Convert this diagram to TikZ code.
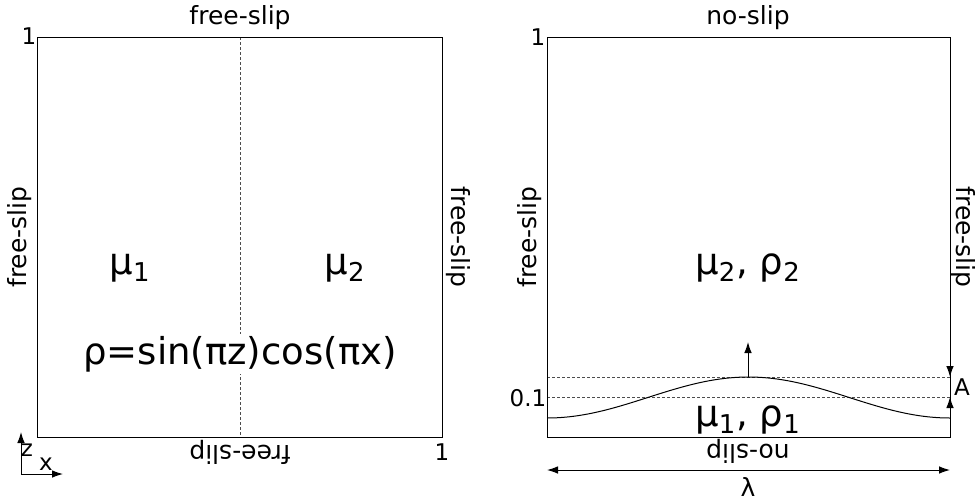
\documentclass[tikz,border=0pt]{standalone}
\usepackage{fontspec}
\setmainfont{DejaVu Sans}
\usetikzlibrary{arrows.meta, positioning}

\begin{document}
\begin{tikzpicture}[
  x=0.5pt, y=-0.5pt,
  lbl/.style={font=\fontsize{12.5}{15}\selectfont, inner sep=1pt},
  big/.style={font=\fontsize{18.5}{22}\selectfont, inner sep=1pt},
  small/.style={font=\fontsize{11.5}{13}\selectfont, inner sep=1pt},
  arrow/.style={-{Latex[length=5.5pt,width=3.8pt]}, line width=0.5pt},
  guide/.style={dash pattern=on 1.5pt off 1pt, line width=0.4pt, black!70}
]
\useasboundingbox (0,0) rectangle (976,500);

% left box
\coordinate (lsw) at (37,437);
\coordinate (lne) at (442,37);
\coordinate (ltop) at (240,37);
\coordinate (lbot) at (240,437);
\draw[guide] (ltop) -- (lbot);
\draw[line width=0.5pt] (lsw) rectangle (lne);

\node[lbl] (ltoplbl) at (240,18) {free-slip};
\node[lbl, rotate=90] (lleftlbl) at (20,237) {free-slip};
\node[lbl, rotate=-90] (lrightlbl) at (458,237) {free-slip};
\node[lbl, rotate=180] (lbotlbl) at (240,452) {free-slip};
\node[small] (lone) at (29,36) {1};
\node[small] (rone) at (442,452) {1};

\node[big] (mua) at (130,268) {μ\textsubscript{1}};
\node[big] (mub) at (345,268) {μ\textsubscript{2}};
\node[big, fill=white] (rho) at (240,354) {ρ=sin(πz)cos(πx)};

% axes
\coordinate (org) at (21,474);
\coordinate (zend) at (21,432);
\coordinate (xend) at (63,474);
\draw[arrow] (org) -- (zend);
\draw[arrow] (org) -- (xend);
\node[small] (zlbl) at (27,450) {z};
\node[small] (xlbl) at (46,464) {x};

% right box
\coordinate (rsw) at (547,437);
\coordinate (rne) at (950,37);
\coordinate (peak) at (748,377);
\coordinate (peakup) at (748,342);
\draw[guide] (547,377) coordinate (dla) -- (950,377) coordinate (dlb);
\draw[guide] (547,397) coordinate (dma) -- (950,397) coordinate (dmb);
\draw[line width=0.5pt] (rsw) rectangle (rne);
\draw[line width=0.5pt] plot[domain=547:950, samples=90] (\x, {397.5-20.5*cos(0.8933*(\x-748.5))});
\draw[arrow] (peak) -- (peakup);

\node[lbl] (rtoplbl) at (748,18) {no-slip};
\node[lbl, rotate=90] (rleftlbl) at (530,237) {free-slip};
\node[lbl, rotate=-90] (rrightlbl) at (963,237) {free-slip};
\node[lbl, rotate=180] (rbotlbl) at (748,451) {no-slip};
\node[small] (rtop) at (538,37) {1};
\node[small] (rlev) at (528,398) {0.1};

\node[big] (mubrhob) at (748,268) {μ\textsubscript{2}, ρ\textsubscript{2}};
\node[big] (muarhoa) at (748,420) {μ\textsubscript{1}, ρ\textsubscript{1}};

% amplitude
\coordinate (adown) at (950,355);
\coordinate (aup) at (950,420);
\draw[arrow] (adown) -- (dlb);
\draw[arrow] (aup) -- (dmb);
\node[small] (alab) at (962,387) {A};

% wavelength
\coordinate (laml) at (547,470);
\coordinate (lamr) at (950,470);
\draw[{Latex[length=5.5pt,width=3.8pt]}-{Latex[length=5.5pt,width=3.8pt]}, line width=0.5pt] (laml) -- (lamr);
\node[lbl] (lamlbl) at (748,487) {λ};
\end{tikzpicture}
\end{document}
